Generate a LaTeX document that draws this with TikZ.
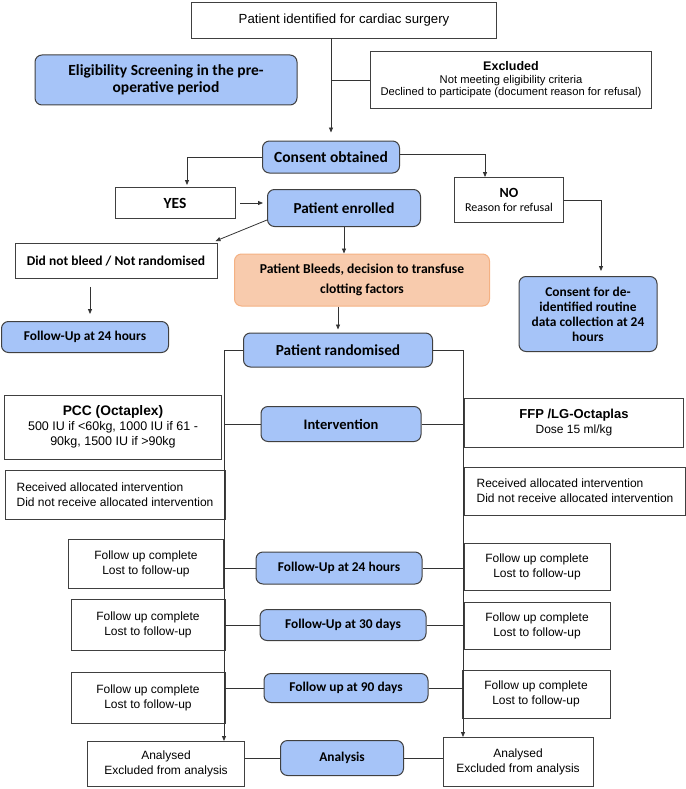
\documentclass[tikz,border=0pt]{standalone}
\usepackage{fontspec}
\setmainfont{Liberation Sans}
\newfontfamily\calfont{Carlito}
\usetikzlibrary{arrows.meta}
\definecolor{stepblue}{HTML}{A6C4F8}
\definecolor{bleedfill}{HTML}{F8CBAD}
\definecolor{bleeddraw}{HTML}{F4B183}
\begin{document}
\begin{tikzpicture}[x=1pt, y=-1pt,
    box/.style={draw=black!75, fill=white, line width=0.9pt, align=center, inner sep=2pt, font=\fontsize{12}{15}\selectfont},
    bluebox/.style={draw=black!75, fill=stepblue, rounded corners=7pt, line width=1pt, align=center, inner sep=2pt, font=\calfont\bfseries\fontsize{13.4}{15}\selectfont},
    calbold/.style={font=\calfont\bfseries\fontsize{13.5}{15}\selectfont},
    arr/.style={-{Triangle[length=5pt,width=4pt]}, line width=0.8pt, black!80},
    link/.style={line width=0.8pt, black!80}]
\useasboundingbox (0,0) rectangle (685,789);

\node[box, minimum width=305, minimum height=36, font=\fontsize{13.2}{15}\selectfont] (ident) at (344,20) {Patient identified for cardiac surgery};
\node[bluebox, minimum width=262, minimum height=50, font=\calfont\bfseries\fontsize{15.5}{17}\selectfont] (elig) at (166,80) {Eligibility Screening in the pre-\\operative period};
\node[box, minimum width=281, minimum height=57, font=\fontsize{11.2}{12.5}\selectfont] (excl) at (511,80) {{\bfseries\fontsize{12.5}{14}\selectfont Excluded}\\Not meeting eligibility criteria\\Declined to participate (document reason for refusal)};
\node[bluebox, minimum width=137, minimum height=32, font=\calfont\bfseries\fontsize{15.5}{17}\selectfont] (cons) at (331,157) {Consent obtained};
\node[box, calbold, minimum width=120, minimum height=31, font=\calfont\bfseries\fontsize{15.5}{17}\selectfont] (yes) at (175,203) {YES};
\node[box, minimum width=109, minimum height=45, font=\calfont\fontsize{12}{14.5}\selectfont] (no) at (509,200) {{\bfseries\fontsize{14}{15}\selectfont NO}\\Reason for refusal};
\node[bluebox, minimum width=153, minimum height=37, font=\calfont\bfseries\fontsize{15.2}{17}\selectfont] (enrol) at (344,208) {Patient enrolled};
\node[box, calbold, minimum width=202, minimum height=35] (nobleed) at (116,261) {Did not bleed / Not randomised};
\node[bluebox, minimum width=167, minimum height=31] (fuleft) at (85,337) {Follow-Up at 24 hours};
\node[bluebox, fill=bleedfill, draw=bleeddraw, minimum width=255, minimum height=52, font=\calfont\bfseries\fontsize{13.6}{19.5}\selectfont] (bleeds) at (362,280) {Patient Bleeds, decision to transfuse\\clotting factors};
\node[bluebox, minimum width=138, minimum height=75] (deident) at (588,314) {Consent for de-\\identified routine\\data collection at 24\\hours};
\node[bluebox, minimum width=189, minimum height=34, font=\calfont\bfseries\fontsize{15.3}{17}\selectfont] (rand) at (338,350) {Patient randomised};

\node[box, minimum width=217, minimum height=64, font=\fontsize{12.5}{15}\selectfont] (pcc) at (113,427) {{\bfseries\fontsize{13.8}{15}\selectfont PCC (Octaplex)}\\500 IU if <60kg, 1000 IU if 61 -\\90kg, 1500 IU if >90kg};
\node[bluebox, minimum width=160, minimum height=35, font=\calfont\bfseries\fontsize{14.5}{16}\selectfont] (interv) at (341,424) {Intervention};
\node[box, minimum width=219, minimum height=49, font=\fontsize{12}{15}\selectfont] (ffp) at (574,423) {{\bfseries\fontsize{13}{15}\selectfont FFP /LG-Octaplas}\\Dose 15 ml/kg};
\node[box, align=left, minimum width=220, minimum height=49] (recleft) at (115,495) {Received allocated intervention\\Did not receive allocated intervention};
\node[box, align=left, minimum width=221, minimum height=48] (recright) at (575,491) {Received allocated intervention\\Did not receive allocated intervention};

\node[box, minimum width=155, minimum height=49] (fuleft1) at (146,564) {Follow up complete\\Lost to follow-up};
\node[bluebox, minimum width=166, minimum height=32] (fu24) at (339,568) {Follow-Up at 24 hours};
\node[box, minimum width=146, minimum height=47] (furight1) at (537,567) {Follow up complete\\Lost to follow-up};
\node[box, minimum width=154, minimum height=51] (fuleft2) at (148,625) {Follow up complete\\Lost to follow-up};
\node[bluebox, minimum width=166, minimum height=31] (fu30) at (343,625) {Follow-Up at 30 days};
\node[box, minimum width=146, minimum height=47] (furight2) at (537,626) {Follow up complete\\Lost to follow-up};
\node[box, minimum width=154, minimum height=51] (fuleft3) at (148,698) {Follow up complete\\Lost to follow-up};
\node[bluebox, minimum width=164, minimum height=29] (fu90) at (346,688) {Follow up at 90 days};
\node[box, minimum width=148, minimum height=48] (furight3) at (536,694) {Follow up complete\\Lost to follow-up};

\node[box, minimum width=157, minimum height=45] (anleft) at (166,764) {Analysed\\Excluded from analysis};
\node[bluebox, minimum width=123, minimum height=35] (analysis) at (342,758) {Analysis};
\node[box, minimum width=150, minimum height=49] (anright) at (518,762) {Analysed\\Excluded from analysis};

\coordinate (leftend) at (224,741);
\coordinate (rightend) at (463,737);

\draw[arr, shorten >=8pt] (cons.north |- ident.south) -- (cons.north);
\draw[link] (cons.north |- excl.west) -- (excl.west);
\draw[arr, shorten >=2pt] (cons.west) -| ([xshift=12pt]yes.north);
\draw[arr] ([yshift=3pt]cons.east) -| ([xshift=-24pt]no.north);
\draw[arr, shorten <=5pt, shorten >=4pt] (yes.east) -- (yes.east -| enrol.west);
\draw[arr] ([yshift=7pt]enrol.south west) -- ([xshift=-2pt,yshift=2pt]nobleed.north east);
\draw[arr, shorten <=8pt, shorten >=7pt] ([xshift=-26pt]nobleed.south) -- ([xshift=-26pt]nobleed.south |- fuleft.north);
\draw[arr] (enrol.south) -- (enrol.south |- bleeds.north);
\draw[arr, shorten >=3pt] (bleeds.south -| rand.north) -- (rand.north);
\draw[arr, shorten >=5pt] (no.east) -| ([xshift=13pt]deident.north);
\draw[arr] (rand.west) -| (leftend);
\draw[arr] (rand.east) -| (rightend);
\foreach \stage in {interv, fu24, fu30, fu90}
  \draw[link] (\stage.west -| leftend) -- (\stage.west) (\stage.east) -- (\stage.east -| rightend);
\draw[link] (analysis.west -| anleft.east) -- (analysis.west) (analysis.east) -- (analysis.east -| anright.west);
\end{tikzpicture}
\end{document}
